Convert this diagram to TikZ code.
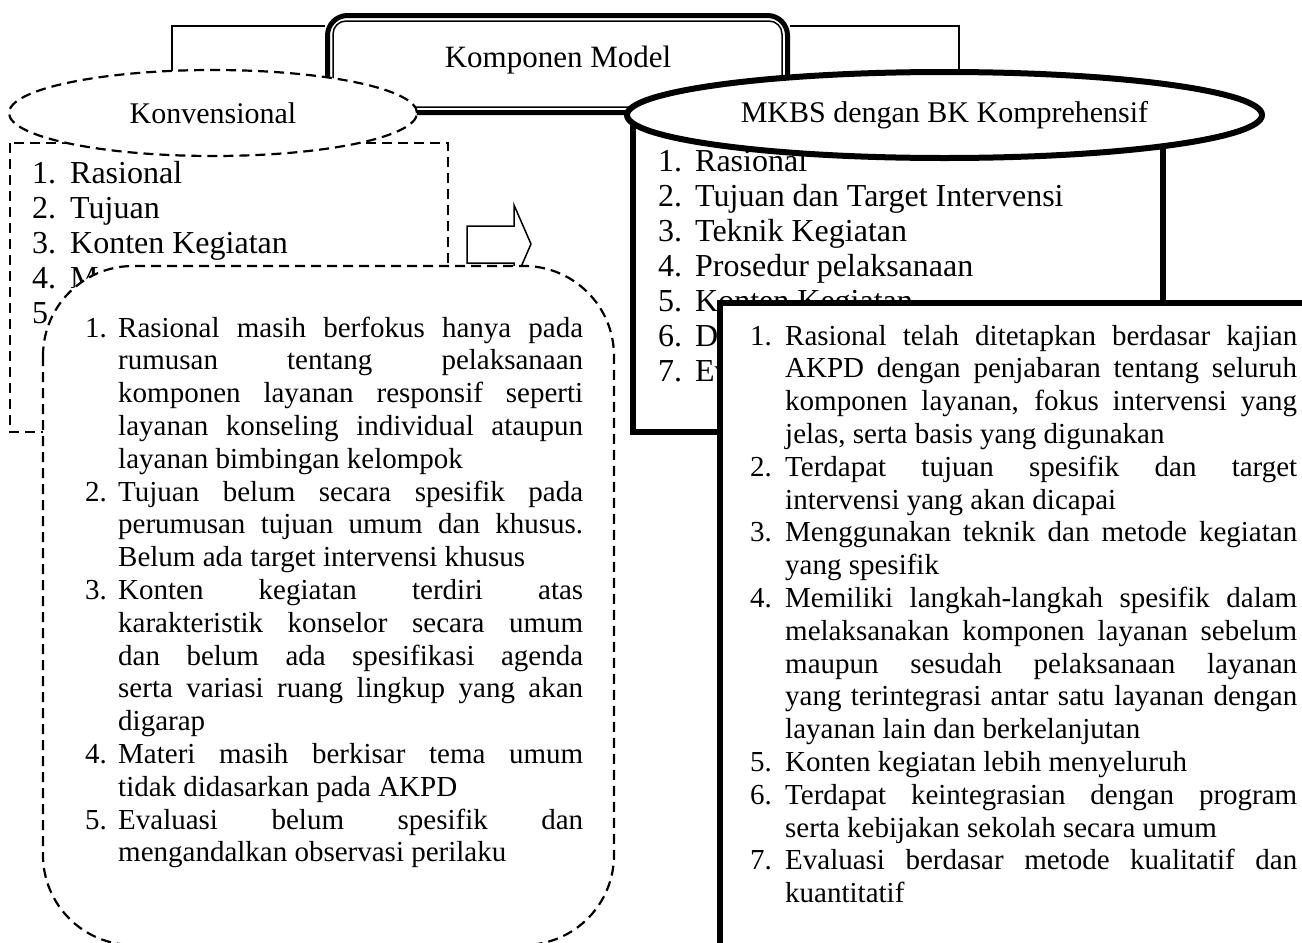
\documentclass[tikz,border=0pt]{standalone}
\usepackage{fontspec}
\setmainfont{Liberation Serif}
\usetikzlibrary{shapes.geometric}
\newlength\hng
\newlength\tw
\newcommand\JL[2]{\hbox{\hbox to \hng{#1\hss}\hbox to \tw{#2}}}
\newcommand\FL[2]{\hbox{\hbox to \hng{#1\hss}#2}}
\tikzset{
  brk/.style={line width=1.5pt},
  dsh/.style={line width=2.2pt, dash pattern=on 10pt off 6pt},
  heavy/.style={line width=5.5pt, fill=white},
  listtxt/.style={anchor=base west, inner sep=0pt, font=\fontsize{32}{35}\selectfont},
  bodytxt/.style={anchor=base west, inner sep=0pt, font=\fontsize{29}{32.8}\selectfont},
  ovaltxt/.style={ellipse, draw, fill=white, minimum height=86pt, inner sep=0pt, font=\fontsize{30}{35}\selectfont},
}
\begin{document}
\begin{tikzpicture}[x=1pt,y=-1pt]
\useasboundingbox (0,0) rectangle (1302,943);
\clip (0,0) rectangle (1302,943);
\fill[white] (0,0) rectangle (1302,943);

% header box
\node[draw, line width=5pt, rounded corners=20pt, fill=white, minimum width=460pt, minimum height=97pt, inner sep=0pt] (komp) at (557.5,64) {};
% brackets
\coordinate (bry) at (0,26);
\coordinate (lbx) at (172,113);
\coordinate (rbx) at (959,113);
\draw[brk] (komp.west |- bry) -| (lbx);
\draw[brk] (komp.east |- bry) -| (rbx);
\draw[line width=1.5pt, rounded corners=13pt] ([shift={(8,8)}]komp.north west) rectangle ([shift={(-8,-8)}]komp.south east);
\node[inner sep=0pt, font=\fontsize{31}{35}\selectfont] (komptxt) at (558,60) {Komponen Model};

% left list box
\draw[dsh, fill=white] (10,143) rectangle (448,432);
\node[listtxt] (ltl) at (32,183) {\setlength\hng{38pt}\vtop{%
\FL{1.}{Rasional}
\FL{2.}{Tujuan}
\FL{3.}{Konten Kegiatan}
\FL{4.}{Materi}
\FL{5.}{}}};

% right list box
\draw[heavy] (633,113) rectangle (1163,432);
\node[listtxt] (rtl) at (658,171) {\setlength\hng{37pt}\vtop{%
\FL{1.}{Rasional}
\FL{2.}{Tujuan dan Target Intervensi}
\FL{3.}{Teknik Kegiatan}
\FL{4.}{Prosedur pelaksanaan}
\FL{5.}{Konten Kegiatan}
\FL{6.}{D}
\FL{7.}{Ev}}};

% ovals
\node[ovaltxt, dsh, minimum width=408pt] (konv) at (213,113) {Konvensional};
\node[ovaltxt, line width=6pt, minimum width=635pt] (mkbs) at (944.5,115) {MKBS dengan BK Komprehensif};

% block arrow
\draw[line width=1.5pt, fill=white] (467,226) -- (514,226) -- (514,205) -- (531,244) -- (514,283) -- (514,263) -- (467,263) -- cycle;

% lower left
\draw[dsh, fill=white, rounded corners=90pt] (43,266) rectangle (614,945);
\node[bodytxt] (llt) at (85,337) {\setlength\hng{33pt}\setlength\tw{465pt}\vtop{%
\JL{1.}{Rasional masih berfokus hanya pada}
\JL{}{rumusan tentang pelaksanaan}
\JL{}{komponen layanan responsif seperti}
\JL{}{layanan konseling individual ataupun}
\FL{}{layanan bimbingan kelompok}
\JL{2.}{Tujuan belum secara spesifik pada}
\JL{}{perumusan tujuan umum dan khusus.}
\FL{}{Belum ada target intervensi khusus}
\JL{3.}{Konten kegiatan terdiri atas}
\JL{}{karakteristik konselor secara umum}
\JL{}{dan belum ada spesifikasi agenda}
\JL{}{serta variasi ruang lingkup yang akan}
\FL{}{digarap}
\JL{4.}{Materi masih berkisar tema umum}
\FL{}{tidak didasarkan pada AKPD}
\JL{5.}{Evaluasi belum spesifik dan}
\FL{}{mengandalkan observasi perilaku}}};

% lower right
\draw[line width=6pt, fill=white] (720,303) rectangle (1340,990);
\node[bodytxt] (lrt) at (750,345) {\setlength\hng{35pt}\setlength\tw{512pt}\vtop{%
\JL{1.}{Rasional telah ditetapkan berdasar kajian}
\JL{}{AKPD dengan penjabaran tentang seluruh}
\JL{}{komponen layanan, fokus intervensi yang}
\FL{}{jelas, serta basis yang digunakan}
\JL{2.}{Terdapat tujuan spesifik dan target}
\FL{}{intervensi yang akan dicapai}
\JL{3.}{Menggunakan teknik dan metode kegiatan}
\FL{}{yang spesifik}
\JL{4.}{Memiliki langkah-langkah spesifik dalam}
\JL{}{melaksanakan komponen layanan sebelum}
\JL{}{maupun sesudah pelaksanaan layanan}
\JL{}{yang terintegrasi antar satu layanan dengan}
\FL{}{layanan lain dan berkelanjutan}
\FL{5.}{Konten kegiatan lebih menyeluruh}
\JL{6.}{Terdapat keintegrasian dengan program}
\FL{}{serta kebijakan sekolah secara umum}
\JL{7.}{Evaluasi berdasar metode kualitatif dan}
\FL{}{kuantitatif}}};
\end{tikzpicture}
\end{document}
